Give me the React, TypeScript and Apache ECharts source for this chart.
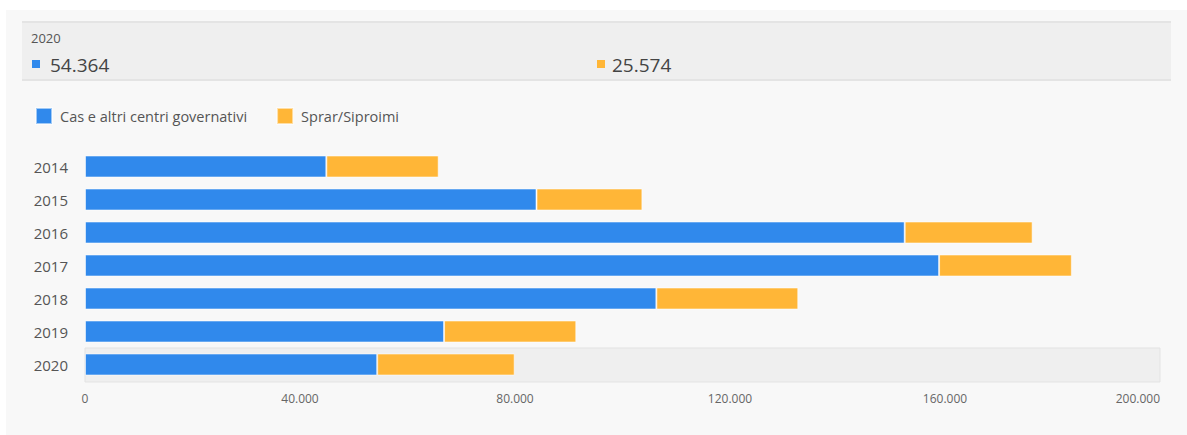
import React, { useEffect, useRef } from "react";
import * as echarts from "echarts";

const categories = ["2014", "2015", "2016", "2017", "2018", "2019", "2020"];
const seriesNames = ["Cas e altri centri governativi", "Sprar/Siproimi"];
const casValues = [44900, 84000, 152500, 158900, 106300, 66800, 54364];
const sprarValues = [20900, 19700, 23800, 24700, 26400, 24600, 25574];
const xTicks = [0, 40000, 80000, 120000, 160000, 200000];
const highlightIndex = 6;

const colors = ["#3089ec", "#ffb637"];
const FONT = "'Open Sans', 'Noto Sans', sans-serif";

function fmt(v: number): string {
  return String(Math.round(v)).replace(/\B(?=(\d{3})+(?!\d))/g, ".");
}

export default function App() {
  const ref = useRef<HTMLDivElement>(null);

  useEffect(() => {
    if (!ref.current) return;
    const chart = echarts.init(ref.current, undefined, { renderer: "svg" });
    const hlYear = categories[highlightIndex];
    const option: any = {
      animation: false,
      textStyle: { fontFamily: FONT },
      graphic: [
        { type: "rect", z: -10, silent: true, shape: { x: 6, y: 10, width: 1181, height: 425 }, style: { fill: "#f8f8f8" } },
        { type: "rect", z: -9, silent: true, shape: { x: 22, y: 21, width: 1149, height: 60 }, style: { fill: "#efefef" } },
        { type: "line", z: -8, silent: true, shape: { x1: 22, y1: 22, x2: 1171, y2: 22 }, style: { stroke: "#e4e4e4", lineWidth: 2 } },
        { type: "line", z: -8, silent: true, shape: { x1: 22, y1: 80, x2: 1171, y2: 80 }, style: { stroke: "#e4e4e4", lineWidth: 2 } },
        { type: "text", x: 31, y: 38, style: { text: hlYear, fontSize: 13, fill: "#555", fontFamily: FONT, verticalAlign: "middle" } },
        { type: "rect", shape: { x: 32, y: 60, width: 8, height: 8 }, style: { fill: colors[0] } },
        { type: "text", x: 50, y: 65, style: { text: fmt(casValues[highlightIndex]), fontSize: 19, fill: "#444", fontFamily: FONT, verticalAlign: "middle" } },
        { type: "rect", shape: { x: 597, y: 60, width: 8, height: 8 }, style: { fill: colors[1] } },
        { type: "text", x: 612, y: 65, style: { text: fmt(sprarValues[highlightIndex]), fontSize: 19, fill: "#444", fontFamily: FONT, verticalAlign: "middle" } },
      ],
      legend: {
        data: seriesNames,
        left: 30,
        top: 102,
        icon: "rect",
        itemWidth: 16,
        itemHeight: 16,
        itemGap: 29,
        textStyle: { fontSize: 14.5, color: "#555", fontFamily: FONT, padding: [0, 0, 0, 3] },
        selectedMode: false,
      },
      grid: { left: 85, top: 150, width: 1075, height: 231, containLabel: false },
      xAxis: {
        type: "value",
        min: xTicks[0],
        max: xTicks[xTicks.length - 1],
        interval: xTicks[1] - xTicks[0],
        axisLine: { show: false },
        axisTick: { show: false },
        splitLine: { show: false },
        axisLabel: {
          fontSize: 12,
          color: "#666",
          margin: 11,
          alignMaxLabel: "right",
          fontFamily: FONT,
          formatter: (v: number) => fmt(v),
        },
      },
      yAxis: {
        type: "category",
        data: categories,
        inverse: true,
        axisLine: { show: false },
        axisTick: { show: false },
        splitLine: { show: false },
        axisLabel: { fontSize: 15, color: "#555", margin: 17, fontFamily: FONT },
      },
      series: [
        {
          type: "custom",
          name: "highlight",
          z: 0,
          silent: true,
          encode: { x: 0, y: 1 },
          data: [[0, highlightIndex]],
          renderItem: (params: any, api: any) => {
            const cs = params.coordSys;
            const c = api.coord([0, api.value(1)]);
            const h = api.size([0, 1])[1];
            return {
              type: "rect",
              shape: { x: cs.x, y: c[1] - h / 2, width: cs.width, height: h + 1 },
              style: { fill: "#efefef", stroke: "#e3e3e3", lineWidth: 1 },
            };
          },
        },
        {
          type: "bar",
          name: seriesNames[0],
          stack: "total",
          barWidth: 22,
          z: 2,
          data: casValues,
          itemStyle: { color: colors[0], borderColor: "rgba(255,255,255,0.55)", borderWidth: 1 },
        },
        {
          type: "bar",
          name: seriesNames[1],
          stack: "total",
          barWidth: 22,
          z: 2,
          data: sprarValues,
          itemStyle: { color: colors[1], borderColor: "rgba(255,255,255,0.55)", borderWidth: 1 },
        },
      ],
    };
    chart.setOption(option);
    return () => chart.dispose();
  }, []);

  return (
    <div
      ref={ref}
      style={{ position: "absolute", left: 0, top: 0, width: 1187, height: 435 }}
    />
  );
}
